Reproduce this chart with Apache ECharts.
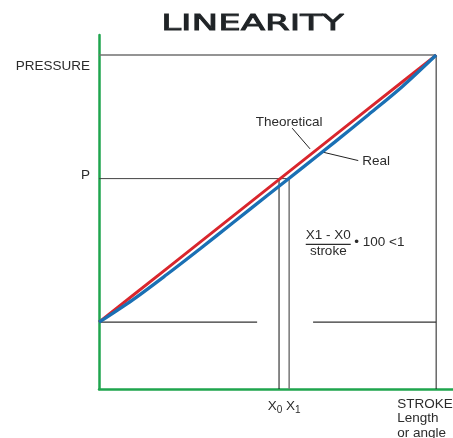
<!DOCTYPE html>
<html><head><meta charset="utf-8">
<script src="https://cdn.jsdelivr.net/npm/echarts@6/dist/echarts.min.js"></script>
<style>html,body{margin:0;padding:0;background:#fff}#c{width:453px;height:438px}</style>
</head><body><div id="c"></div>
<script>
// ---- data (stroke % vs pressure %) ----
const strokeX     = [0, 10, 20, 30, 40, 50, 60, 70, 80, 90, 100];
const theoretical = [20, 28, 36, 44, 52, 60, 68, 76, 84, 92, 100];
const real        = [20, 26.7, 34.2, 42.0, 50.0, 58.0, 66.0, 74.0, 82.2, 90.6, 100];
const fullStroke = 100, fullPressure = 100, offsetPressure = 20;
const levelP = 63;
const strokeX0 = 53.4, strokeX1 = 56.4;
const gapFrom = 46.9, gapTo = 63.5;
const theoLeader = [[57.3, 78.1], [62.6, 71.9]];
const realLeader = [[66.5, 70.9], [76.9, 68.4]];
const titleText = 'LINEARITY';
const yLabels = ['PRESSURE', 'P'];
const xLabelStroke = 'STROKE\nLength\nor angle';

const GREEN = '#1fa54e', RED = '#d9262d', BLUE = '#1a70b4';
const FONT = 'Liberation Sans';

function seg(points, color, width, z) {
  return { type: 'line', data: points, symbol: 'none', silent: true, animation: false,
    lineStyle: { color: color, width: width }, z: z || 2 };
}

const chart = echarts.init(document.getElementById('c'), null, { renderer: 'canvas' });
chart.setOption({
  animation: false,
  grid: { left: 99, right: 0, top: 35, bottom: 49 },
  xAxis: { type: 'value', min: 0, max: 105, axisLine: { show: true, onZero: false, lineStyle: { color: GREEN, width: 2.5 } },
    axisTick: { show: false }, axisLabel: { show: false }, splitLine: { show: false } },
  yAxis: { type: 'value', min: 0, max: 106, axisLine: { show: true, onZero: false, lineStyle: { color: GREEN, width: 2.5 } },
    axisTick: { show: false }, axisLabel: { show: false }, splitLine: { show: false } },
  series: [
    seg([[0, fullPressure], [fullStroke, fullPressure]], '#707070', 1.4),
    seg([[fullStroke, fullPressure], [fullStroke, 0]], '#1c1c1c', 1),
    seg([[0, levelP], [strokeX1, levelP]], '#444', 1),
    seg([[strokeX0, levelP], [strokeX0, 0]], '#111', 1),
    seg([[strokeX1, levelP], [strokeX1, 0]], '#777', 1.5),
    seg([[0, offsetPressure], [gapFrom, offsetPressure]], '#333', 1.2),
    seg([[gapTo, offsetPressure], [fullStroke, offsetPressure]], '#333', 1.2),
    seg(theoLeader, '#222', 1),
    seg(realLeader, '#222', 1),
    seg(strokeX.map((x, i) => [x, theoretical[i]]), RED, 2.9, 5),
    Object.assign(seg(strokeX.map((x, i) => [x, real[i]]), BLUE, 3.3, 6), { smooth: 0.3 })
  ]
});

const px = (x, y) => chart.convertToPixel({ gridIndex: 0 }, [x, y]);
const left = px(0, 0), topR = px(fullStroke, fullPressure), pP = px(0, levelP);
const pX0 = px(strokeX0, 0), pX1 = px(strokeX1, 0);
const tl = px(theoLeader[0][0], theoLeader[0][1]);
const rl = px(realLeader[1][0], realLeader[1][1]);
const frac = px(68, 46);
const txt = (x, y, text, align, vAlign, extra) => ({
  type: 'text', x: x, y: y, silent: true,
  style: Object.assign({ text: text, fill: '#2b2b2b', font: '13.5px ' + FONT, align: align, verticalAlign: vAlign }, extra || {})
});

chart.setOption({
  graphic: [
    { type: 'text', x: 252.5, y: 24, scaleX: 1.62, silent: true,
      style: { text: titleText, fill: '#1f2326', stroke: '#1f2326', lineWidth: 0.8,
        font: '22px DejaVu Sans', align: 'center', verticalAlign: 'middle' } },
    txt(left[0] - 9, topR[1] + 11, yLabels[0], 'right', 'middle'),
    txt(left[0] - 9, pP[1] - 3, yLabels[1], 'right', 'middle'),
    txt(tl[0] - 3, tl[1] - 6, 'Theoretical', 'center', 'middle'),
    txt(rl[0] + 4, rl[1] + 1, 'Real', 'left', 'middle'),
    txt(frac[0], frac[1], 'X1 - X0', 'center', 'middle'),
    { type: 'line', silent: true, shape: { x1: frac[0] - 22.5, y1: frac[1] + 9, x2: frac[0] + 22.5, y2: frac[1] + 9 },
      style: { stroke: '#2b2b2b', lineWidth: 1.2 } },
    txt(frac[0], frac[1] + 16, 'stroke', 'center', 'middle'),
    txt(frac[0] + 26, frac[1] + 7, '\u2022 100 <1', 'left', 'middle'),
    { type: 'text', x: (pX0[0] + pX1[0]) / 2, y: left[1] + 8, silent: true,
      style: { text: 'X{s|0} X{s|1}', fill: '#2b2b2b', font: '13.5px ' + FONT, align: 'center', verticalAlign: 'top',
        rich: { s: { fontSize: 10, fontFamily: FONT, fill: '#2b2b2b', padding: [8, 0, 0, 0] } } } },
    txt(topR[0] - 39, left[1] + 8, xLabelStroke, 'left', 'top', { lineHeight: 14.5 })
  ]
});
</script></body></html>
